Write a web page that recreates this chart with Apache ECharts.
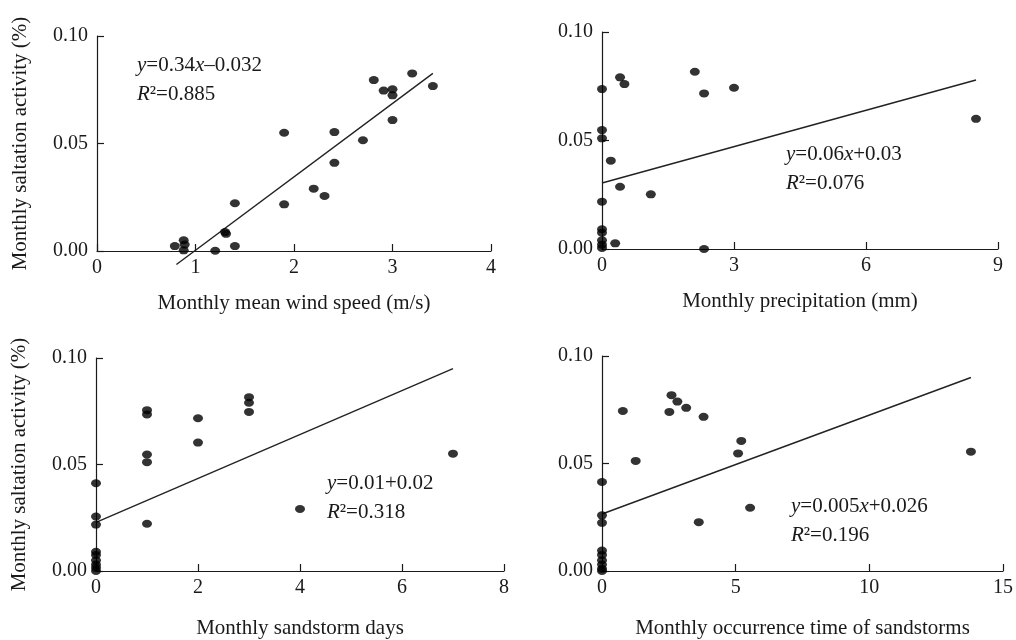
<!DOCTYPE html>
<html>
<head>
<meta charset="utf-8">
<title>Monthly saltation activity</title>
<script src="https://cdn.jsdelivr.net/npm/echarts@6/dist/echarts.min.js"></script>
<style>
  html, body { margin: 0; padding: 0; background: #fff; }
  #chart { width: 1016px; height: 640px; }
</style>
</head>
<body>
<div id="chart"></div>
<script>
// panel 1: wind speed (m/s)
var windX = [0.79, 0.88, 0.89, 0.88, 1.20, 1.30, 1.31, 1.40, 1.40, 1.90, 1.90, 2.20, 2.31, 2.41, 2.41, 2.70, 2.81, 2.91, 3.00, 3.00, 3.00, 3.20, 3.41];
var windY = [0.0023, 0.0050, 0.0030, 0.0003, 0.0001, 0.0088, 0.0080, 0.0023, 0.0222, 0.0217, 0.0550, 0.0290, 0.0256, 0.0410, 0.0553, 0.0515, 0.0795, 0.0746, 0.0752, 0.0724, 0.0609, 0.0826, 0.0767];
var windFit = [[0.806, -0.0063], [3.41, 0.0826]];

// panel 2: precipitation (mm)
var rainX = [0, 0, 0, 0.20, 0.41, 0.51, 0.41, 0, 1.11, 0, 0, 0, 0, 0, 0.30, 2.11, 2.32, 2.32, 3.00, 8.50];
var rainY = [0.0737, 0.0548, 0.0510, 0.0407, 0.0791, 0.0760, 0.0287, 0.0218, 0.0252, 0.0091, 0.0075, 0.0040, 0.0020, 0.0005, 0.0026, 0.0817, 0.0717, 0.0000, 0.0743, 0.0600];
var rainFit = [[0, 0.0304], [8.5, 0.0779]];

// panel 3: sandstorm days
var daysX = [1, 1, 1, 1, 1, 2, 2, 3, 3, 3, 4, 0, 0, 0, 0, 0, 0, 0, 0, 0, 7];
var daysY = [0.0755, 0.0735, 0.0547, 0.0511, 0.0222, 0.0717, 0.0603, 0.0816, 0.0790, 0.0747, 0.0291, 0.0412, 0.0256, 0.0218, 0.0090, 0.0075, 0.0050, 0.0030, 0.0015, 0.0000, 0.0551];
var daysFit = [[0, 0.0228], [7, 0.095]];

// panel 4: occurrence time of sandstorms
var timeX = [0.78, 1.26, 2.52, 2.60, 2.82, 3.15, 3.80, 3.62, 5.09, 5.21, 5.54, 0, 0, 0, 0, 0, 0, 0, 0, 0, 13.8];
var timeY = [0.0744, 0.0512, 0.0740, 0.0818, 0.0788, 0.0759, 0.0717, 0.0227, 0.0547, 0.0605, 0.0294, 0.0414, 0.0259, 0.0224, 0.0095, 0.0075, 0.0050, 0.0030, 0.0010, 0.0000, 0.0555];
var timeFit = [[0, 0.0265], [13.8, 0.090]];

var xNames = ['Monthly mean wind speed (m/s)', 'Monthly precipitation (mm)', 'Monthly sandstorm days', 'Monthly occurrence time of sandstorms'];
var xMax = [4, 9, 8, 15];
var xStep = [1, 3, 2, 5];
var yName = 'Monthly saltation activity (%)';
var eqLines = [
  ['{i|y}{n|=0.34}{i|x}{n|–0.032}', '{i|R}{n|²=0.885}'],
  ['{i|y}{n|=0.06}{i|x}{n|+0.03}', '{i|R}{n|²=0.076}'],
  ['{i|y}{n|=0.01+0.02}', '{i|R}{n|²=0.318}'],
  ['{i|y}{n|=0.005}{i|x}{n|+0.026}', '{i|R}{n|²=0.196}']
];

var font = 'Liberation Serif, Times New Roman, serif';
var ink = '#1a1a1a';

var myChart = echarts.init(document.getElementById('chart'), null, { renderer: 'canvas' });

var grids = [
  { left: 97, top: 36, width: 394, height: 215 },
  { left: 602, top: 32, width: 396, height: 217 },
  { left: 96, top: 358, width: 408, height: 219 },
  { left: 602, top: 356, width: 408, height: 220 }
];
var eqPos = [[137, 55], [786, 144], [327, 473], [791, 496]];

function pairs(xs, ys) {
  var out = [];
  for (var i = 0; i < xs.length; i++) out.push([xs[i], ys[i]]);
  return out;
}

var scatterData = [pairs(windX, windY), pairs(rainX, rainY), pairs(daysX, daysY), pairs(timeX, timeY)];
var fits = [windFit, rainFit, daysFit, timeFit];

var xAxes = [], yAxes = [], series = [], graphics = [];
for (var k = 0; k < 4; k++) {
  xAxes.push({
    gridIndex: k,
    type: 'value',
    min: 0,
    max: xMax[k],
    interval: xStep[k],
    name: xNames[k],
    nameLocation: 'middle',
    nameGap: k < 2 ? 42 : 47,
    nameTextStyle: { fontFamily: font, fontSize: 21, color: ink },
    axisLine: { show: true, onZero: false, lineStyle: { color: ink, width: 1.2 } },
    axisTick: { show: true, inside: true, length: 7, lineStyle: { color: ink, width: 1.2 } },
    axisLabel: { fontFamily: font, fontSize: 20, color: ink, margin: 7 },
    splitLine: { show: false }
  });
  yAxes.push({
    gridIndex: k,
    type: 'value',
    min: 0,
    max: 0.1,
    interval: 0.05,
    name: (k % 2 === 0) ? yName : '',
    nameLocation: 'middle',
    nameGap: 66,
    nameTextStyle: { fontFamily: font, fontSize: 21, color: ink },
    axisLine: { show: true, onZero: false, lineStyle: { color: ink, width: 1.2 } },
    axisTick: { show: true, inside: true, length: 7, lineStyle: { color: ink, width: 1.2 } },
    axisLabel: {
      fontFamily: font, fontSize: 20, color: ink, margin: 9,
      formatter: function(v) { return v.toFixed(2); }
    },
    splitLine: { show: false }
  });
  series.push({
    type: 'scatter',
    xAxisIndex: k,
    yAxisIndex: k,
    data: scatterData[k],
    symbol: 'circle',
    symbolSize: [10, 8],
    clip: false,
    itemStyle: { color: '#000' },
    silent: true,
    z: 3
  });
  series.push({
    type: 'line',
    xAxisIndex: k,
    yAxisIndex: k,
    data: fits[k],
    symbol: 'none',
    clip: false,
    lineStyle: { color: '#222', width: 1.4 },
    silent: true,
    z: 2
  });
  graphics.push({
    type: 'text',
    left: eqPos[k][0],
    top: eqPos[k][1],
    style: {
      text: eqLines[k].join('\n'),
      fill: ink,
      rich: {
        i: { fontFamily: font, fontSize: 21, fontStyle: 'italic', fill: ink, lineHeight: 29 },
        n: { fontFamily: font, fontSize: 21, fill: ink, lineHeight: 29 }
      }
    }
  });
}

var option = {
  backgroundColor: '#fff',
  animation: false,
  grid: grids,
  xAxis: xAxes,
  yAxis: yAxes,
  series: series,
  graphic: graphics
};
myChart.setOption(option);
</script>
</body>
</html>
